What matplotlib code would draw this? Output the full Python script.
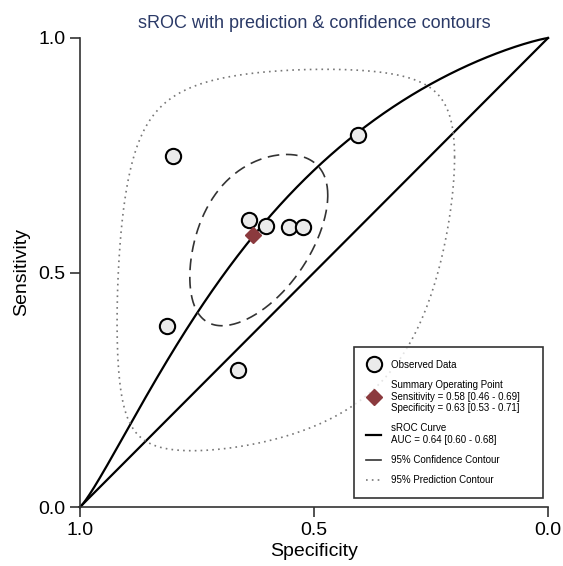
import numpy as np
import matplotlib.pyplot as plt
from matplotlib.lines import Line2D

plt.rcParams['font.family'] = ['Liberation Sans', 'DejaVu Sans']

# observed studies (specificity, sensitivity)
spec_obs = [0.802, 0.815, 0.639, 0.602, 0.554, 0.524, 0.406, 0.662]
sens_obs = [0.749, 0.386, 0.613, 0.600, 0.597, 0.598, 0.793, 0.292]

# summary operating point
summary_spec = 0.63
summary_sens = 0.58

# sROC curve: logit(sens) = a + b * logit(fpr)
sroc_a = 0.935
sroc_b = 1.17

# contour covariances in (logit fpr, logit sens) space
conf_cov = np.array([[0.4225, 0.235], [0.235, 0.616]])
pred_cov = np.array([[3.69, 1.45], [1.45, 5.36]])

legend_labels = [
    "Observed Data",
    "Summary Operating Point\nSensitivity = 0.58 [0.46 - 0.69]\nSpecificity = 0.63 [0.53 - 0.71]",
    "sROC Curve\nAUC = 0.64 [0.60 - 0.68]",
    "95% Confidence Contour",
    "95% Prediction Contour",
]


def logit(p):
    return np.log(p / (1 - p))


def expit(x):
    return 1 / (1 + np.exp(-x))


def contour(cov, n=300):
    t = np.linspace(0, 2 * np.pi, n)
    L = np.linalg.cholesky(cov)
    c = np.array([logit(1 - summary_spec), logit(summary_sens)])
    pts = c[:, None] + L @ np.vstack([np.cos(t), np.sin(t)])
    return 1 - expit(pts[0]), expit(pts[1])


fig = plt.figure(figsize=(5.63, 5.66), dpi=100)
ax = fig.add_axes([80 / 563, 1 - 507 / 566, 468 / 563, 469 / 566])

# chance line
ax.plot([1, 0], [0, 1], color="black", lw=1.6, clip_on=False)

# sROC curve
fpr = np.linspace(0.0002, 0.9998, 500)
sens_curve = expit(sroc_a + sroc_b * logit(fpr))
ax.plot(np.r_[1, 1 - fpr, 0], np.r_[0, sens_curve, 1], color="black", lw=1.6, clip_on=False)

# contours
cx, cy = contour(conf_cov)
ax.plot(cx, cy, color="#333333", lw=1.2, ls=(0, (7, 4)))
px, py = contour(pred_cov)
ax.plot(px, py, color="#777777", lw=1.2, ls=(0, (1, 2.5)))

ax.plot(spec_obs, sens_obs, "o", ms=11, mfc="#ebebeb", mec="black", mew=1.5, zorder=5)
ax.plot(summary_spec, summary_sens, "D", ms=8.5, color="#8b3a3e", zorder=6)

ax.set_xlim(1, 0)
ax.set_ylim(0, 1)
ax.set_xticks([1.0, 0.5, 0.0])
ax.set_yticks([0.0, 0.5, 1.0])
ax.set_xticklabels(["1.0", "0.5", "0.0"])
ax.set_yticklabels(["0.0", "0.5", "1.0"])
ax.tick_params(labelsize=14, length=7, width=1.2, color="#333333")
for s in ["top", "right"]:
    ax.spines[s].set_visible(False)
for s in ["left", "bottom"]:
    ax.spines[s].set_linewidth(1.2)
    ax.spines[s].set_color("#333333")

ax.set_xlabel("Specificity", fontsize=14, labelpad=3)
ax.set_ylabel("Sensitivity", fontsize=14, labelpad=6)
ax.set_title("sROC with prediction & confidence contours", fontsize=13, color="#2b3a67", pad=7)

handles = [
    Line2D([], [], ls="none", marker="o", ms=11, mfc="#ebebeb", mec="black", mew=1.5),
    Line2D([], [], ls="none", marker="D", ms=8.5, color="#8b3a3e"),
    Line2D([], [], color="black", lw=1.6),
    Line2D([], [], color="#333333", lw=1.2),
    Line2D([], [], color="#777777", lw=1.2, ls=(0, (1, 2.5))),
]
leg = ax.legend(handles, legend_labels, loc="lower left", bbox_to_anchor=(0.585, 0.019, 0.404, 0.3),
                mode="expand", fontsize=7, frameon=True, fancybox=False, edgecolor="black",
                handlelength=1.5, handletextpad=1.0, labelspacing=1.05, borderpad=1.3,
                borderaxespad=0)
leg.get_frame().set_linewidth(1.2)

fig.savefig("out.png", dpi=100)
